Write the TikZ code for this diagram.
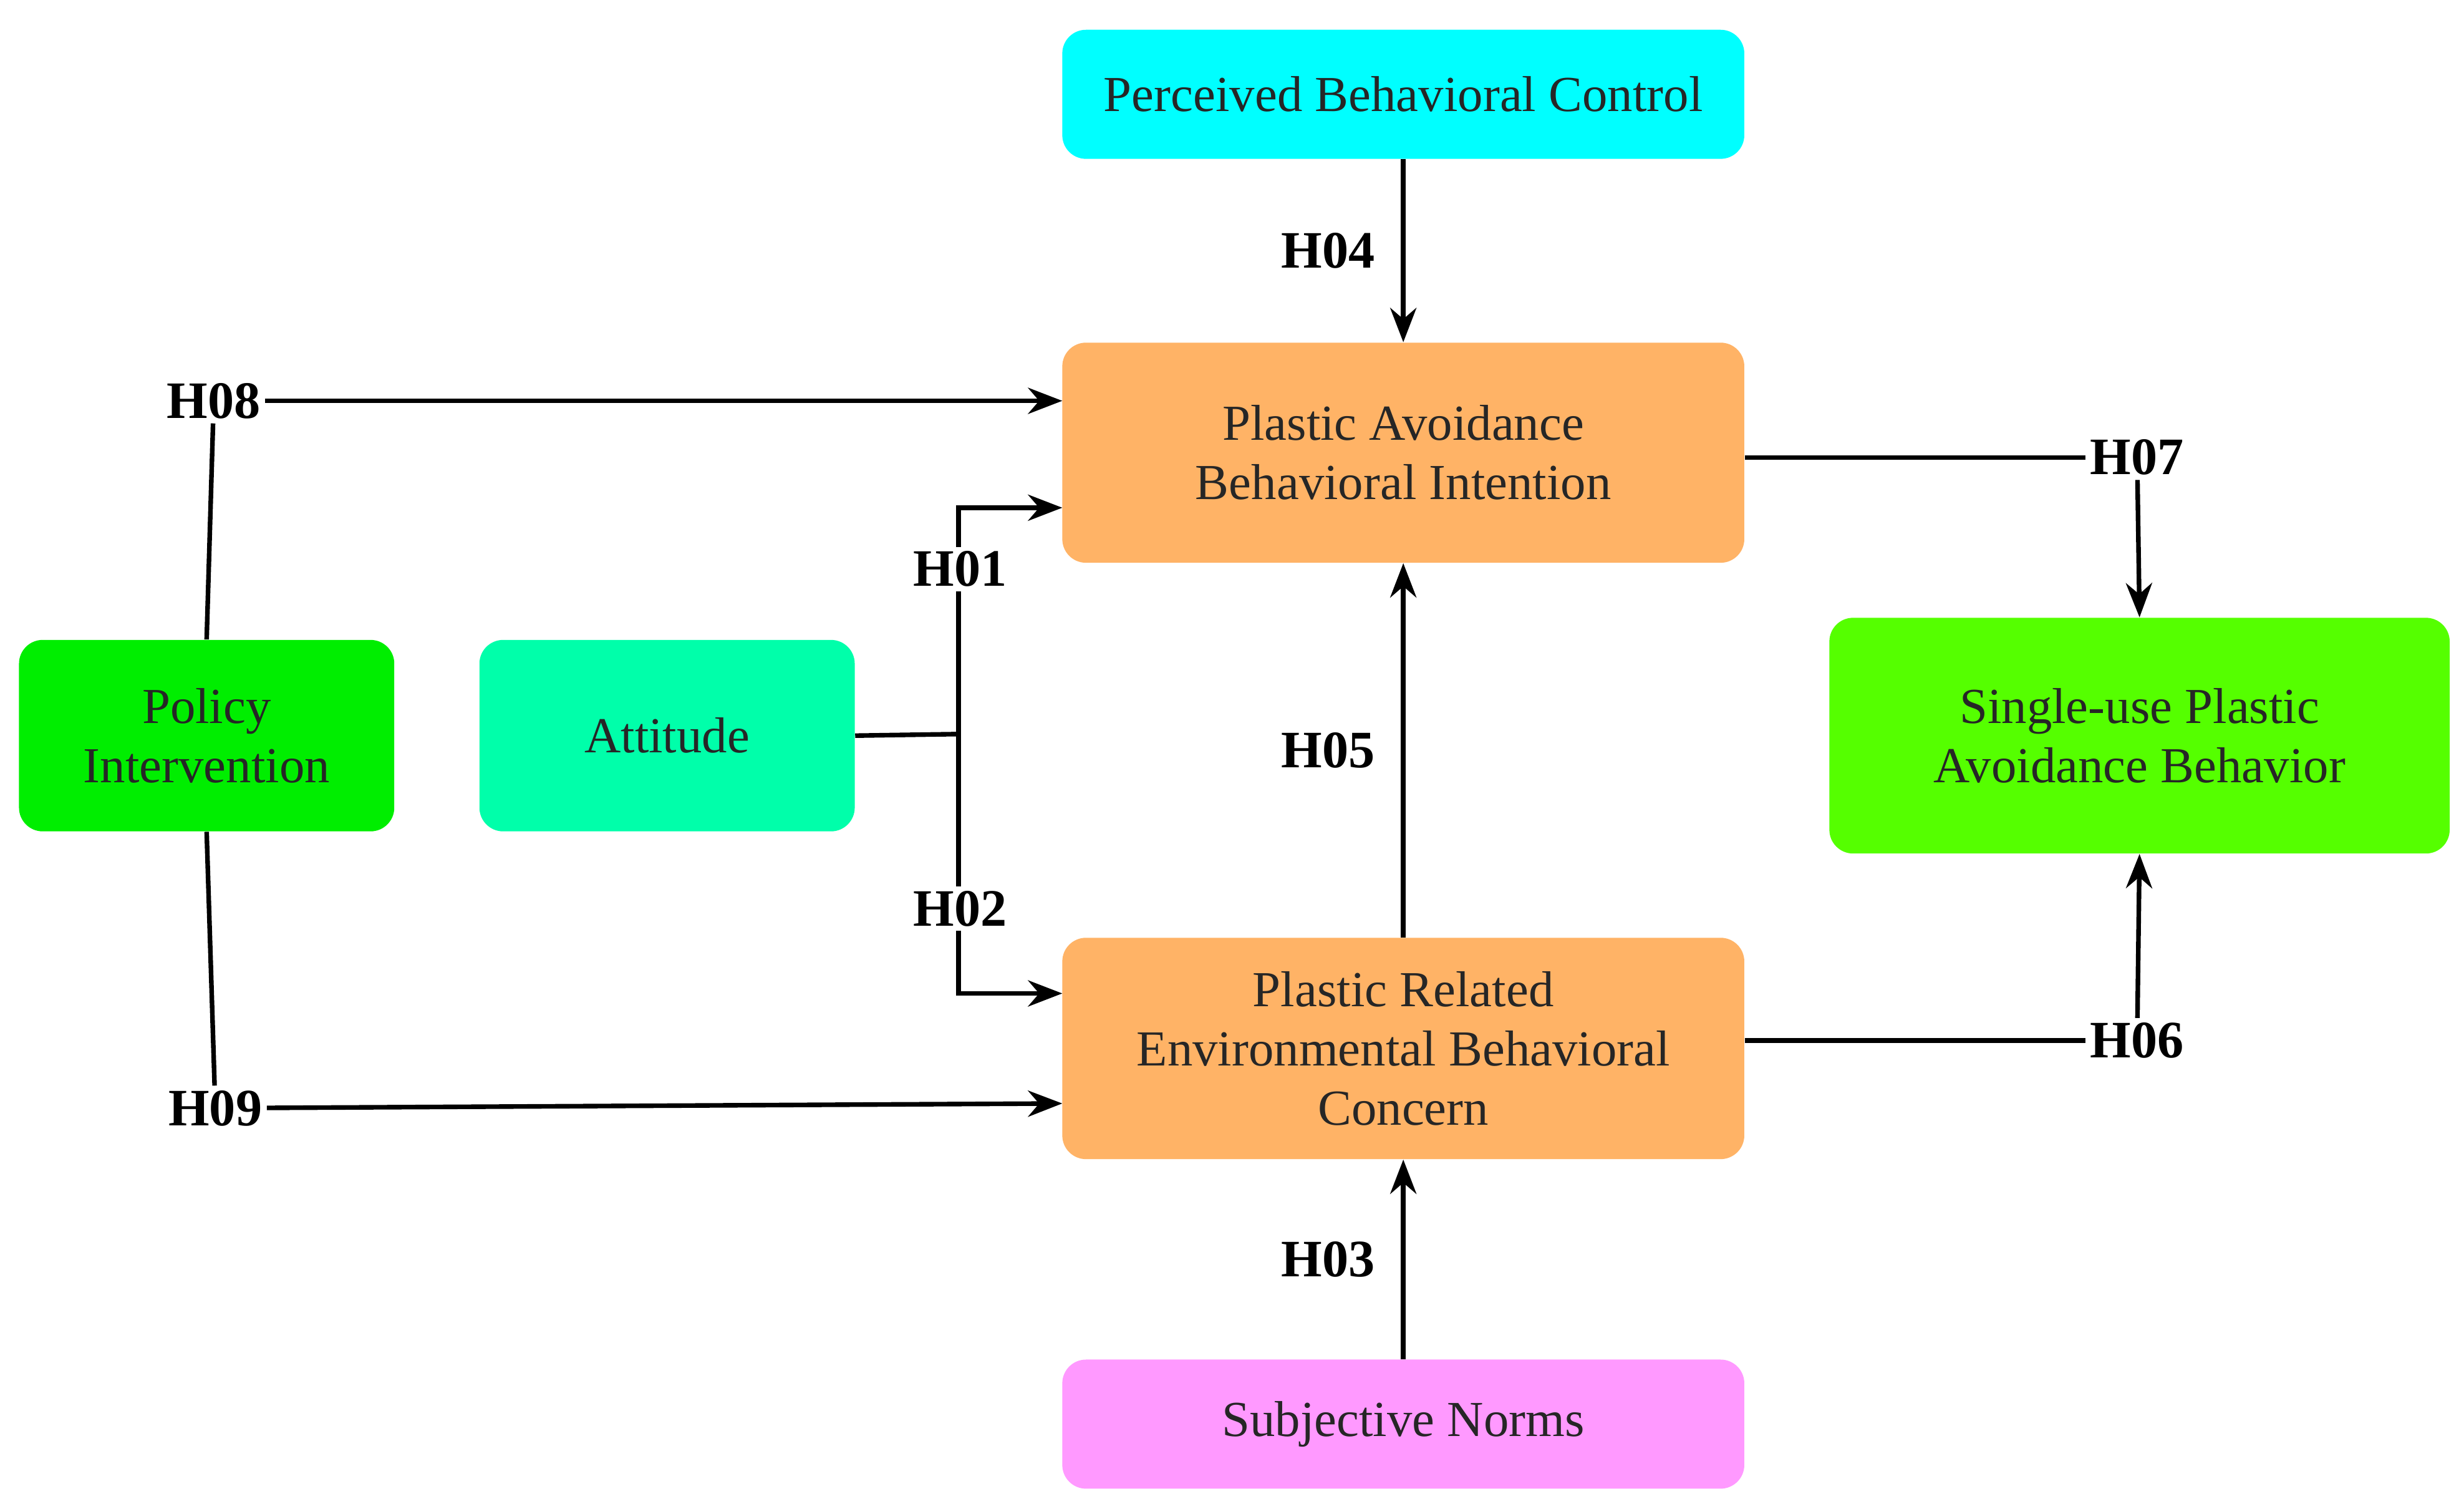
\documentclass[tikz,border=0pt]{standalone}
\usepackage{fontspec}
\setmainfont{Liberation Serif}
\usetikzlibrary{arrows.meta}
\definecolor{cy}{HTML}{00FFFF}
\definecolor{orng}{HTML}{FFB366}
\definecolor{pnk}{HTML}{FF99FF}
\definecolor{grn}{HTML}{00EE00}
\definecolor{aqg}{HTML}{00FFAA}
\definecolor{lgr}{HTML}{55FF00}
\begin{document}
\begin{tikzpicture}[x=0.0252cm,y=-0.0252cm,
  box/.style={rounded corners=0.38cm,inner sep=0pt,align=center,font=\fontsize{23}{27}\selectfont,text=black!85},
  lab/.style={fill=white,inner sep=2pt,font=\fontsize{24}{28}\selectfont\bfseries},
  ln/.style={line width=2.1pt},
  ar/.style={line width=2.1pt,-{Stealth[length=0.55cm,width=0.42cm]}}]
\useasboundingbox (0,0) rectangle (1568,960);
\node[box,fill=cy,minimum width=10.94cm,minimum height=2.07cm] (pbc) at (893,60) {Perceived Behavioral Control};
\node[box,fill=orng,minimum width=10.94cm,minimum height=3.53cm] (pabi) at (893,288) {Plastic Avoidance\\Behavioral Intention};
\node[box,fill=orng,minimum width=10.94cm,minimum height=3.55cm] (prebc) at (893,667) {Plastic Related\\Environmental Behavioral\\Concern};
\node[box,fill=pnk,minimum width=10.94cm,minimum height=2.07cm] (sn) at (893,906) {Subjective Norms};
\node[box,fill=grn,minimum width=6.02cm,minimum height=3.07cm] (pol) at (131.5,468) {Policy\\Intervention};
\node[box,fill=aqg,minimum width=6.02cm,minimum height=3.07cm] (att) at (424.5,468) {Attitude};
\node[box,fill=lgr,minimum width=9.95cm,minimum height=3.78cm] (sup) at (1361.5,468) {Single-use Plastic\\Avoidance Behavior};

\draw[ar] (pbc) -- node[lab,left=0.35cm] (h04) {H04} (pabi);
\draw[ar] (prebc) -- node[lab,left=0.35cm] (h05) {H05} (pabi);
\draw[ar] (sn) -- node[lab,left=0.35cm] (h03) {H03} (prebc);

\node[lab] (h08) at (136,255) {H08};
\node[lab] (h09) at (137,705) {H09};
\draw[ln] (pol.north) -- (h08);
\draw[ln] (pol.south) -- (h09);
\draw[ar] (h08) -- (676,255);
\draw[ar] (h09) -- (676,702);

\coordinate (j) at (610,467);
\coordinate (a1) at (610,323);
\coordinate (a2) at (610,632);
\draw[ln] (att.east) -- (j);
\draw[ar] (j) -- (a1) -- (676,323);
\draw[ar] (j) -- (a2) -- (676,632);
\node[lab] (h01) at (611,362) {H01};
\node[lab] (h02) at (611,578) {H02};

\node[lab] (h07) at (1360,291) {H07};
\node[lab] (h06) at (1360,662) {H06};
\draw[ln] (pabi.east |- h07) -- (h07);
\draw[ar] (h07) -- (sup.north);
\draw[ln] (prebc.east |- h06) -- (h06);
\draw[ar] (h06) -- (sup.south);
\end{tikzpicture}
\end{document}
